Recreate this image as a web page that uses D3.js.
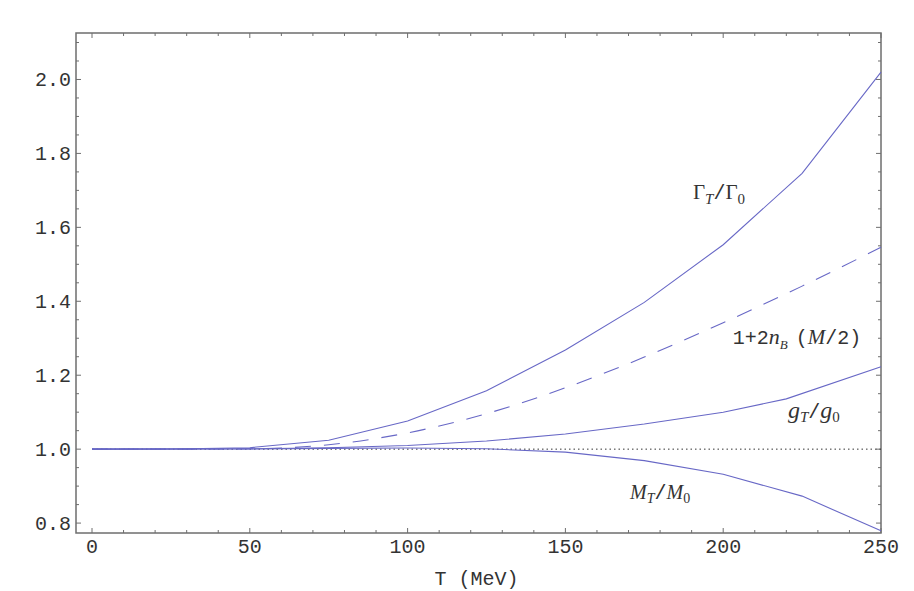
<!DOCTYPE html>
<html>
<head>
<meta charset="utf-8">
<script src="https://cdn.jsdelivr.net/npm/d3@7"></script>
<style>
  body { margin: 0; background: #fff; }
  .tick-label { font-family: "Liberation Mono", monospace; font-size: 20px; fill: #333; }
  .curve-label { font-family: "Liberation Serif", "Times New Roman", serif; font-size: 20px; fill: #333; }
  .mono { font-family: "Liberation Mono", monospace; font-style: normal; font-size: 20px; }
</style>
</head>
<body>
<div id="chart"></div>
<script>
const width = 914;
const height = 591;
const margin = {top: 33, right: 33, bottom: 60, left: 76};

//-----------------------------DATA-----------------------------//
// Gamma_T / Gamma_0
const gammaT = [0, 25, 50, 75, 100, 125, 150, 175, 200, 225, 250];
const gammaV = [1.0, 1.0003, 1.004, 1.024, 1.076, 1.158, 1.268, 1.397, 1.553, 1.746, 2.02];
// 1 + 2 n_B(M/2)  (dashed)
const boseT = [0, 25, 50, 75, 100, 125, 150, 175, 200, 225, 250];
const boseV = [1.0, 1.0, 1.001, 1.012, 1.044, 1.096, 1.166, 1.249, 1.342, 1.441, 1.546];
// g_T / g_0
const coupT = [0, 50, 75, 100, 125, 150, 175, 200, 220, 250];
const coupV = [1.0, 1.001, 1.004, 1.010, 1.022, 1.041, 1.068, 1.100, 1.136, 1.223];
// M_T / M_0
const massT = [0, 50, 75, 100, 125, 150, 175, 200, 225, 250];
const massV = [1.0, 1.0005, 1.002, 1.003, 1.001, 0.992, 0.969, 0.932, 0.873, 0.779];

const xTicks = [0, 50, 100, 150, 200, 250];
const yTicks = [0.8, 1.0, 1.2, 1.4, 1.6, 1.8, 2.0];

const lineColor = "#6868c6";
const frameColor = "#6e6e6e";

//----------------------------SCALES----------------------------//
const x = d3.scaleLinear().domain([-5.07, 250]).range([margin.left, width - margin.right]);
const y = d3.scaleLinear().domain([0.7732, 2.1257]).range([height - margin.bottom + 2, margin.top]);

const svg = d3.select("#chart").append("svg")
    .attr("width", width)
    .attr("height", height);

const x0 = x.range()[0], x1 = x.range()[1];
const y0 = y.range()[0], y1 = y.range()[1];

//-----------------------------FRAME & TICKS--------------------//
const xMinor = d3.range(0, 251, 10).filter(d => d % 50 !== 0);
const yMinor = d3.range(16, 43).map(d => d * 0.05).filter(d => Math.abs(d * 5 - Math.round(d * 5)) > 1e-6);

const ticks = svg.append("g").attr("stroke", frameColor).attr("stroke-width", 1);
// bottom & top
xTicks.forEach(t => {
    ticks.append("line").attr("x1", x(t)).attr("x2", x(t)).attr("y1", y0).attr("y2", y0 - 5);
    ticks.append("line").attr("x1", x(t)).attr("x2", x(t)).attr("y1", y1).attr("y2", y1 + 5);
});
xMinor.forEach(t => {
    ticks.append("line").attr("x1", x(t)).attr("x2", x(t)).attr("y1", y0).attr("y2", y0 - 3);
    ticks.append("line").attr("x1", x(t)).attr("x2", x(t)).attr("y1", y1).attr("y2", y1 + 3);
});
// left & right
yTicks.forEach(t => {
    ticks.append("line").attr("y1", y(t)).attr("y2", y(t)).attr("x1", x0).attr("x2", x0 + 5);
    ticks.append("line").attr("y1", y(t)).attr("y2", y(t)).attr("x1", x1).attr("x2", x1 - 5);
});
yMinor.forEach(t => {
    ticks.append("line").attr("y1", y(t)).attr("y2", y(t)).attr("x1", x0).attr("x2", x0 + 3);
    ticks.append("line").attr("y1", y(t)).attr("y2", y(t)).attr("x1", x1).attr("x2", x1 - 3);
});

svg.append("rect")
    .attr("x", x0).attr("y", y1)
    .attr("width", x1 - x0).attr("height", y0 - y1)
    .attr("fill", "none")
    .attr("stroke", frameColor)
    .attr("stroke-width", 1.5);

// tick labels
svg.append("g").selectAll("text")
    .data(xTicks).join("text")
    .attr("class", "tick-label")
    .attr("x", d => x(d))
    .attr("y", 553)
    .attr("text-anchor", "middle")
    .text(d => d);

svg.append("g").selectAll("text")
    .data(yTicks).join("text")
    .attr("class", "tick-label")
    .attr("x", x0 - 5)
    .attr("y", d => y(d) + 6.5)
    .attr("text-anchor", "end")
    .text(d => d3.format(".1f")(d));

svg.append("text")
    .attr("class", "tick-label")
    .attr("x", (x0 + x1) / 2 - 2)
    .attr("y", 585)
    .attr("text-anchor", "middle")
    .text("T (MeV)");

//----------------------------LINES-----------------------------//
const zip = (ts, vs) => ts.map((t, i) => ({t: t, v: vs[i]}));

const line = d3.line()
    .x(d => x(d.t))
    .y(d => y(d.v));

const smooth = d3.line()
    .curve(d3.curveMonotoneX)
    .x(d => x(d.t))
    .y(d => y(d.v));

// reference line at 1
svg.append("line")
    .attr("x1", x(0)).attr("x2", x(250))
    .attr("y1", y(1)).attr("y2", y(1))
    .attr("stroke", "#333")
    .attr("stroke-width", 1)
    .attr("stroke-dasharray", "1.5,3");

svg.append("path")
    .attr("d", smooth(zip(boseT, boseV)))
    .attr("fill", "none")
    .attr("stroke", lineColor)
    .attr("stroke-width", 1.1)
    .attr("stroke-dasharray", "16,13");

[zip(gammaT, gammaV), zip(coupT, coupV), zip(massT, massV)].forEach(s => {
    svg.append("path")
        .attr("d", line(s))
        .attr("fill", "none")
        .attr("stroke", lineColor)
        .attr("stroke-width", 1.1);
});

//----------------------------LABELS----------------------------//
function label(t, v) {
    return svg.append("text")
        .attr("class", "curve-label")
        .attr("x", x(t))
        .attr("y", y(v));
}

// Gamma_T / Gamma_0
let lab = label(190.4, 1.678);
lab.append("tspan").attr("font-size", 21).text("Γ");
lab.append("tspan").attr("dy", 5).attr("font-size", 15).attr("font-style", "italic").text("T");
lab.append("tspan").attr("dy", -5).attr("class", "mono").text("/");
lab.append("tspan").attr("font-size", 21).text("Γ");
lab.append("tspan").attr("dy", 5).attr("font-size", 15).text("0");

// 1 + 2 n_B (M/2)
lab = label(203, 1.284);
lab.append("tspan").attr("class", "mono").text("1+2");
lab.append("tspan").attr("font-style", "italic").attr("font-size", 22).text("n");
lab.append("tspan").attr("dy", 5).attr("font-size", 13).attr("font-style", "italic").text("B");
lab.append("tspan").attr("dy", -5).attr("dx", 8).attr("class", "mono").text("(");
lab.append("tspan").attr("font-style", "italic").attr("font-size", 21).text("M");
lab.append("tspan").attr("class", "mono").text("/2)");

// g_T / g_0
lab = label(220.5, 1.083);
lab.append("tspan").attr("font-style", "italic").attr("font-size", 24).text("g");
lab.append("tspan").attr("dy", 4).attr("font-size", 15).attr("font-style", "italic").text("T");
lab.append("tspan").attr("dy", -4).attr("class", "mono").text("/");
lab.append("tspan").attr("font-style", "italic").attr("font-size", 24).text("g");
lab.append("tspan").attr("dy", 4).attr("font-size", 15).text("0");

// M_T / M_0
lab = label(170.5, 0.866);
lab.append("tspan").attr("font-style", "italic").text("M");
lab.append("tspan").attr("dy", 4).attr("font-size", 14).attr("font-style", "italic").text("T");
lab.append("tspan").attr("dy", -4).attr("class", "mono").text("/");
lab.append("tspan").attr("font-style", "italic").text("M");
lab.append("tspan").attr("dy", 4).attr("font-size", 14).text("0");
</script>
</body>
</html>
